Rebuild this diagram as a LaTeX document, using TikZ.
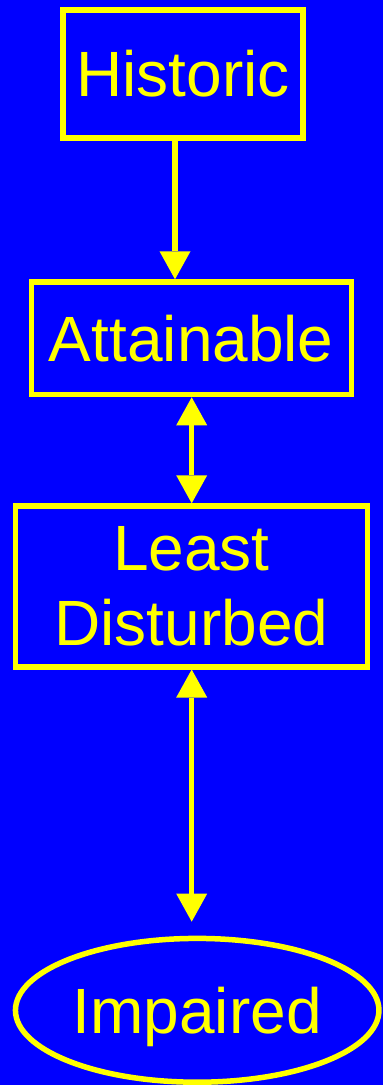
\documentclass[tikz,border=0pt]{standalone}
\usepackage{fontspec}
\setmainfont{Liberation Sans}
\usetikzlibrary{arrows.meta,shapes.geometric}
\definecolor{bgblue}{RGB}{0,0,255}
\definecolor{fgyellow}{RGB}{255,255,0}
\tikzset{
  stagebox/.style={draw=fgyellow, line width=5.5pt, rectangle, inner sep=0pt,
    text=fgyellow, font=\fontsize{64}{75.7}\selectfont, align=center},
  stageoval/.style={stagebox, ellipse},
  link/.style={draw=fgyellow, line width=5.5pt},
  head/.tip={Triangle[width=31pt, length=28pt, line width=0pt]}
}
\begin{document}
\begin{tikzpicture}[x=1pt, y=-1pt]
  \fill[bgblue] (0,0) rectangle (383,1085);
  \useasboundingbox (0,0) rectangle (383,1085);

  \node[stagebox, minimum width=240pt, minimum height=128pt] (hist) at (183.2,74) {Historic};
  \node[stagebox, minimum width=320pt, minimum height=112.5pt] (att) at (191.3,338.3) {Attainable};
  \node[stagebox, minimum width=352pt, minimum height=160.7pt] (least) at (191.5,586.4) {Least\\Disturbed};
  \node[stageoval, minimum width=363.5pt, minimum height=143.8pt, text depth=0pt] (imp) at (197.2,1010.3) {Impaired};

  \coordinate (colA) at (175,0);
  \coordinate (colB) at (191.7,0);

  \draw[link, -head] (hist.south -| colA) -- (att.north -| colA);
  \draw[link, head-head] (att.south -| colB) -- (least.north -| colB);
  \draw[link, head-head, shorten >=14pt] (least.south -| colB) -- (imp.north -| colB);
\end{tikzpicture}
\end{document}
